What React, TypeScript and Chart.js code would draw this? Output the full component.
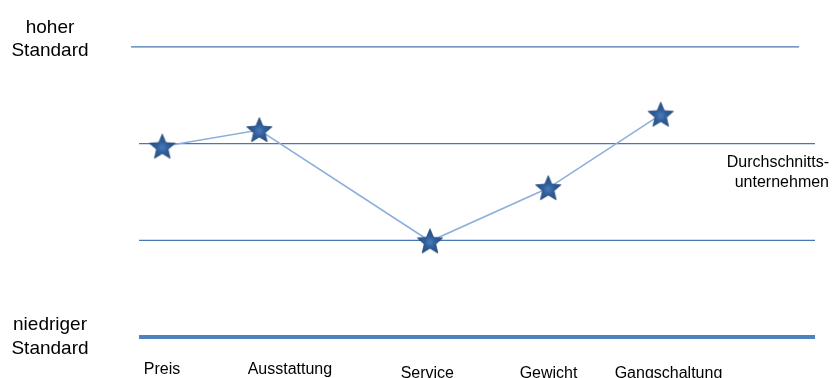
import React, { useEffect, useRef } from "react";
import { Chart, registerables } from "chart.js";

Chart.register(...registerables);

// Data
const categories = ["Preis", "Ausstattung", "Service", "Gewicht", "Gangschaltung"];
const categoryX = [19.48, 31.13, 51.62, 65.82, 79.32]; // position on the criteria axis (0..100)
const ratings = [1.97, 2.14, 0.99, 1.54, 2.3]; // 0 = niedriger Standard, 3 = hoher Standard
const levelValues = [3, 2, 1, 0];
const levelNames = ["hoher Standard", "Durchschnittsunternehmen", "", "niedriger Standard"];

function makeStar(): HTMLCanvasElement {
  const size = 30;
  const c = document.createElement("canvas");
  c.width = size;
  c.height = size;
  const ctx = c.getContext("2d")!;
  const cx = size / 2;
  const cy = size / 2 + 0.9;
  const outer = 13.3;
  const inner = 6.0;
  ctx.beginPath();
  for (let i = 0; i < 10; i++) {
    const r = i % 2 === 0 ? outer : inner;
    const a = -Math.PI / 2 + (i * Math.PI) / 5;
    const x = cx + r * Math.cos(a);
    const y = cy + r * Math.sin(a);
    if (i === 0) ctx.moveTo(x, y);
    else ctx.lineTo(x, y);
  }
  ctx.closePath();
  const g = ctx.createRadialGradient(cx, cy, 0, cx, cy, outer);
  g.addColorStop(0, "#4a7dbf");
  g.addColorStop(0.4, "#325f9a");
  g.addColorStop(1, "#264d82");
  ctx.fillStyle = g;
  ctx.fill();
  ctx.lineWidth = 0.8;
  ctx.strokeStyle = "#22467a";
  ctx.stroke();
  return c;
}

const textPlugin = {
  id: "textLabels",
  afterDraw(chart: any) {
    const ctx = chart.ctx as CanvasRenderingContext2D;
    const xs = chart.scales.x;
    ctx.save();
    ctx.fillStyle = "#000";
    ctx.textBaseline = "alphabetic";
    // left labels
    ctx.font = "19px 'Liberation Sans', Arial, sans-serif";
    ctx.textAlign = "center";
    ctx.fillText("hoher", 50, 33);
    ctx.fillText("Standard", 50, 55.5);
    ctx.fillText("niedriger", 50, 329.5);
    ctx.fillText("Standard", 50, 353.5);
    // right label
    ctx.font = "16px 'Liberation Sans', Arial, sans-serif";
    ctx.textAlign = "right";
    ctx.fillText("Durchschnitts-", 829, 166.5);
    ctx.fillText("unternehmen", 829, 187);
    // category labels
    const labelX = [19.45, 34.8, 51.3, 65.85, 80.25];
    const labelBase = [374, 374, 377.5, 377.5, 377.5];
    ctx.textAlign = "center";
    categories.forEach((c, i) => {
      ctx.fillText(c, xs.getPixelForValue(labelX[i]), labelBase[i]);
    });
    ctx.restore();
  },
};

export default function App() {
  const ref = useRef<HTMLCanvasElement>(null);
  useEffect(() => {
    const star = makeStar();
    const lineExtents = [
      [15.73, 95.93],
      [16.69, 97.84],
      [16.69, 97.84],
      [16.69, 97.84],
    ];
    const levelDatasets = levelValues.map((v, i) => ({
      label: levelNames[i] || "Niveau",
      data: [
        { x: lineExtents[i][0], y: v },
        { x: lineExtents[i][1], y: v },
      ],
      borderColor: v === 0 ? "#4f81bd" : "#4779b8",
      borderWidth: v === 0 ? 4 : 1.3,
      pointRadius: 0,
      order: 2,
    }));
    const chart = new Chart(ref.current!, {
      type: "line",
      data: {
        datasets: [
          {
            label: "Bewertung",
            data: categoryX.map((x, i) => ({ x, y: ratings[i] })),
            borderColor: "#8cb0de",
            borderWidth: 1.6,
            pointStyle: star as any,
            pointRadius: 14,
            pointHoverRadius: 14,
            order: 0,
          },
          ...levelDatasets,
        ],
      },
      options: {
        animation: false,
        responsive: true,
        maintainAspectRatio: false,
        layout: { padding: 0, autoPadding: false },
        plugins: { legend: { display: false }, tooltip: { enabled: false } },
        scales: {
          x: { type: "linear", display: false, min: 0, max: 100 },
          y: { type: "linear", display: false, min: -0.424, max: 3.485 },
        },
      },
      plugins: [textPlugin],
    });
    return () => chart.destroy();
  }, []);
  return (
    <div style={{ position: "absolute", left: 0, top: 0, width: 833, height: 378, background: "#fff" }}>
      <canvas ref={ref} />
    </div>
  );
}
